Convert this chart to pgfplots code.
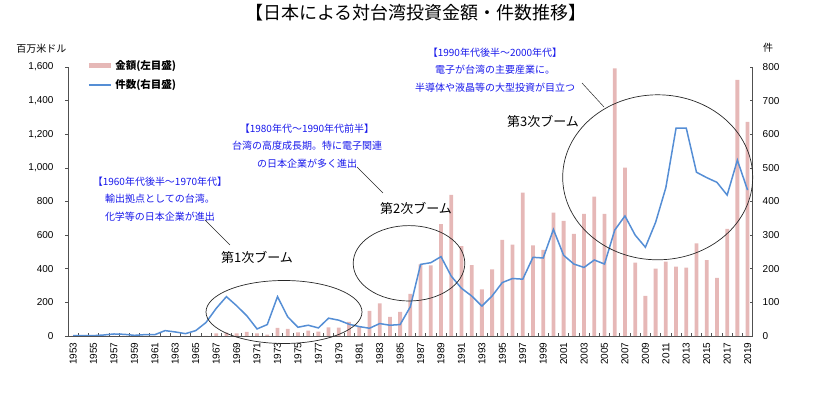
\documentclass[border=0pt]{standalone}
\usepackage{fontspec}
\setmainfont{Liberation Sans}
\newfontfamily\jp{Noto Sans CJK JP}
\usepackage{pgfplots}
\usepackage{pgfplotstable}
\pgfplotsset{compat=1.18}
\definecolor{barpink}{RGB}{230,184,183}
\definecolor{lineblue}{RGB}{85,142,213}
\definecolor{txtblue}{RGB}{25,25,235}
\definecolor{axgray}{RGB}{80,80,80}
\definecolor{ellcol}{RGB}{40,40,40}

\pgfplotstableread{
year amount count
1953 0 1
1954 0 1
1955 0 1
1956 0 3
1957 0 6
1958 0 5
1959 0 2
1960 0 4
1961 0 4
1962 0 16
1963 0 12
1964 0 7
1965 0 16
1966 0 40
1967 16 82
1968 20 117
1969 16 90
1970 24 60
1971 16 21
1972 8 34
1973 48 117
1974 42 57
1975 22 26
1976 32 32
1977 26 24
1978 52 53
1979 50 47
1980 84 35
1981 56 28
1982 149 23
1983 194 37
1984 113 32
1985 143 34
1986 250 87
1987 426 213
1988 420 218
1989 666 236
1990 839 178
1991 535 142
1992 422 119
1993 278 89
1994 397 119
1995 571 159
1996 543 171
1997 853 169
1998 539 234
1999 512 232
2000 734 317
2001 684 240
2002 607 214
2003 726 204
2004 829 226
2005 726 214
2006 1592 315
2007 1001 357
2008 436 300
2009 238 264
2010 400 338
2011 442 441
2012 412 618
2013 406 618
2014 551 487
2015 452 471
2016 345 457
2017 637 419
2018 1523 523
2019 1273 434
}\data

\begin{document}
\begin{tikzpicture}
\useasboundingbox (-68pt,-57pt) rectangle (765pt,336pt);
\pgfplotsset{
  common/.style={
    scale only axis, width=684.7pt, height=269pt,
    at={(0pt,0pt)}, anchor=south west,
    xmin=1952.5, xmax=2019.5,
    axis line style={draw=axgray, line width=0.8pt},
    tick style={draw=axgray, line width=0.6pt},
    major tick length=3pt,
    ticklabel style={font=\fontsize{10}{12}\selectfont},
    /pgf/number format/assume math mode=true,
  }
}
\begin{axis}[common,
  axis y line*=left, axis x line*=bottom,
  ymin=0, ymax=1600, ytick={0,200,...,1600},
  tick align=outside,
  yticklabel style={xshift=-8pt},
  xtick={1953,1955,...,2019},
  xtick style={draw=none},
  xticklabel style={rotate=90, anchor=east, /pgf/number format/1000 sep={}},
]
\addplot[ybar, bar width=3.8pt, fill=barpink, draw=none] table[x=year, y=amount] {\data};
\end{axis}
\begin{axis}[common,
  axis y line*=right, axis x line*=bottom,
  ymin=0, ymax=800, ytick={0,100,...,800},
  tick align=inside,
  yticklabel style={xshift=6.5pt},
  xtick={1953.5,1954.5,...,2018.5},
  xticklabels={},
  legend style={at={(0.022,1.041)}, anchor=north west, draw=none, fill=none,
    font=\jp\bfseries\fontsize{10.5}{12}\selectfont, row sep=5pt,
    legend cell align=left},
  legend image code/.code={\draw[#1] (0pt,0pt) -- (22pt,0pt);},
]
\addlegendimage{barpink, line width=5pt}
\addlegendentry{金額(左目盛)}
\addplot[lineblue, line width=1.5pt, mark=none] table[x=year, y=count] {\data};
\addlegendentry{件数(右目盛)}
\end{axis}

% titles and axis units
\node[font=\jp\fontsize{18}{20}\selectfont] at (348pt,323pt) {【日本による対台湾投資金額・件数推移】};
\node[font=\jp\fontsize{10}{12}\selectfont] at (-26.5pt,287pt) {百万米ドル};
\node[font=\jp\fontsize{10}{12}\selectfont] at (700pt,288pt) {件};

% ellipses
\draw[ellcol, line width=0.7pt] (216pt,24pt) ellipse [x radius=78pt, y radius=31.5pt];
\draw[ellcol, line width=0.7pt] (341pt,72.7pt) ellipse [x radius=55.8pt, y radius=37.7pt];
\draw[ellcol, line width=0.7pt] (589.7pt,158.7pt) ellipse [x radius=95pt, y radius=82.5pt];

% boom labels
\node[font=\jp\fontsize{13}{15}\selectfont] at (189pt,79pt) {第1次ブーム};
\node[font=\jp\fontsize{13}{15}\selectfont] at (348pt,128pt) {第2次ブーム};
\node[font=\jp\fontsize{13}{15}\selectfont] at (475pt,215pt) {第3次ブーム};

% blue notes
\node[align=center, text=txtblue, font=\jp\fontsize{10}{17.5}\selectfont] at (92pt,137pt)
  {【1960年代後半～1970年代】\\輸出拠点としての台湾。\\化学等の日本企業が進出};
\node[align=center, text=txtblue, font=\jp\fontsize{10}{17.5}\selectfont] at (239pt,190pt)
  {【1980年代～1990年代前半】\\台湾の高度成長期。特に電子関連\\の日本企業が多く進出};
\node[align=center, text=txtblue, font=\jp\fontsize{10}{17.5}\selectfont] at (427pt,266pt)
  {【1990年代後半～2000年代】\\電子が台湾の主要産業に。\\半導体や液晶等の大型投資が目立つ};

% leader lines
\draw[ellcol, line width=0.5pt] (137pt,116pt) -- (162pt,91pt);
\draw[ellcol, line width=0.5pt] (289pt,169pt) -- (315pt,143pt);
\draw[ellcol, line width=0.5pt] (514pt,253pt) -- (536pt,229pt);
\end{tikzpicture}
\end{document}
